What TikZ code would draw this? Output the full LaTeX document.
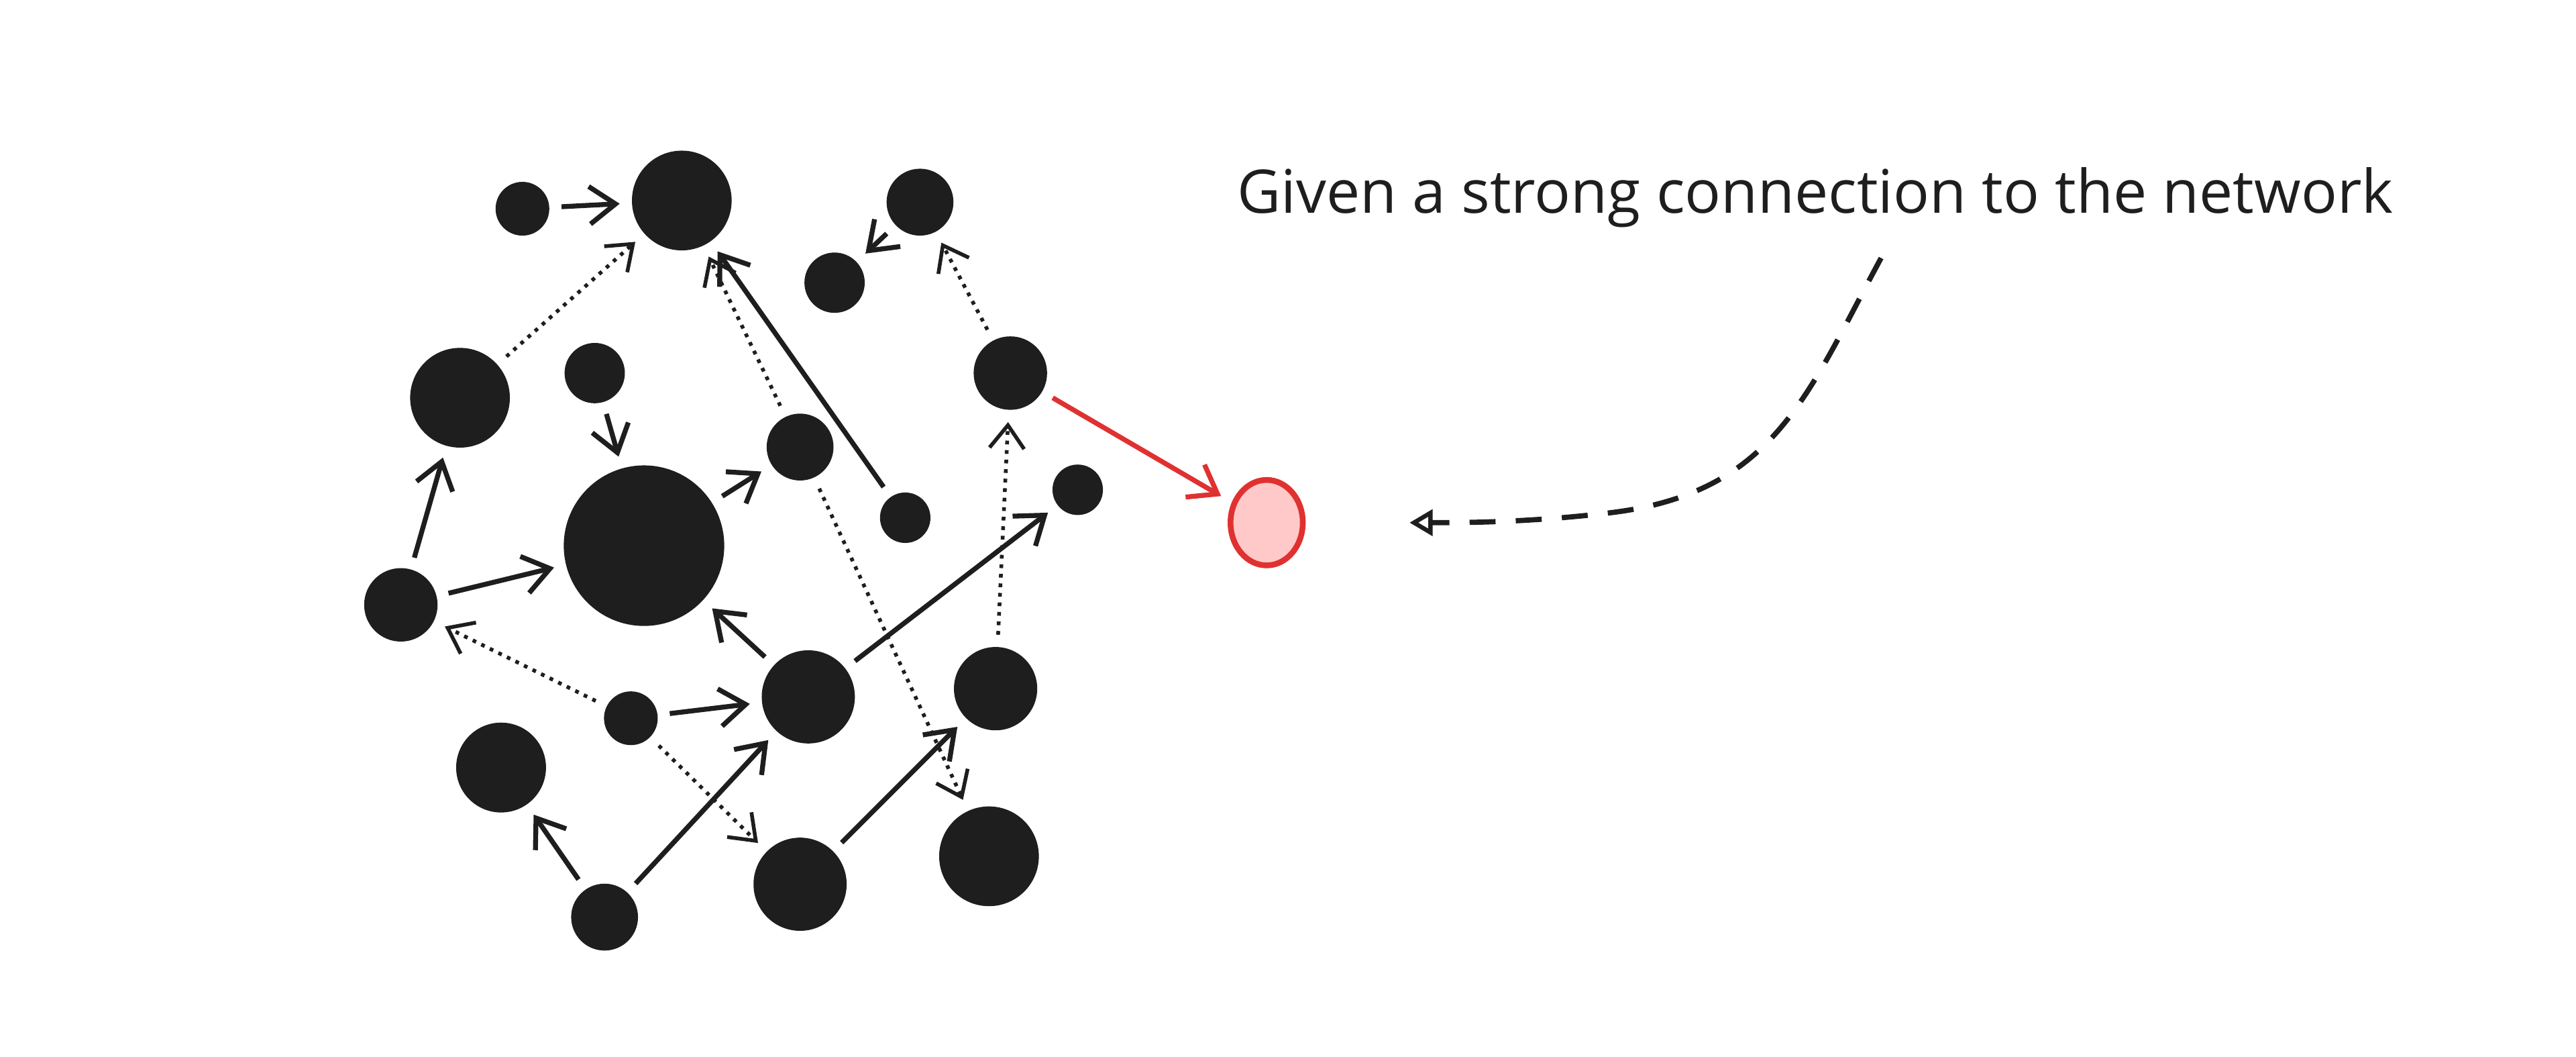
\documentclass[tikz,border=0pt]{standalone}
\usepackage{fontspec}
\setmainfont{Open Sans}
\usetikzlibrary{arrows.meta,shapes.geometric}
\definecolor{ink}{HTML}{1E1E1E}
\definecolor{redl}{HTML}{E03131}
\definecolor{pinkf}{HTML}{FFC9C9}
\begin{document}
\begin{tikzpicture}[x=0.02cm,y=-0.02cm,
 blob/.style={circle,fill=ink,draw=ink,inner sep=0pt},
 sol/.style={ink,line width=1.7pt,-{Straight Barb[length=9pt,width=13pt,line width=1.7pt]},shorten <=0.15cm,shorten >=0.15cm},
 dot/.style={ink,line width=1.3pt,dotted,-{Straight Barb[length=8pt,width=12pt,line width=1.3pt]},shorten <=0.15cm,shorten >=0.15cm}]
\useasboundingbox (0,0) rectangle (1568,643);
\node[blob,minimum size=0.64cm] (n1) at (318,127) {};
\node[blob,minimum size=1.2cm] (n2) at (415,122) {};
\node[blob,minimum size=0.8cm] (n3) at (560,123) {};
\node[blob,minimum size=0.72cm] (n4) at (508,172) {};
\node[blob,minimum size=1.2cm] (n5) at (280,242) {};
\node[blob,minimum size=0.72cm] (n6) at (362,227) {};
\node[blob,minimum size=0.88cm] (n7) at (615,227) {};
\node[blob,minimum size=0.8cm] (n8) at (487,272) {};
\node[blob,minimum size=1.94cm] (n9) at (392,332) {};
\node[blob,minimum size=0.6cm] (n10) at (551,315) {};
\node[blob,minimum size=0.6cm] (n11) at (656,298) {};
\node[blob,minimum size=0.88cm] (n12) at (244,368) {};
\node[blob,minimum size=0.64cm] (n13) at (384,437) {};
\node[blob,minimum size=1.12cm] (n14) at (492,424) {};
\node[blob,minimum size=1.0cm] (n15) at (606,419) {};
\node[blob,minimum size=1.08cm] (n16) at (305,467) {};
\node[blob,minimum size=0.8cm] (n17) at (368,558) {};
\node[blob,minimum size=1.12cm] (n18) at (487,538) {};
\node[blob,minimum size=1.2cm] (n19) at (602,521) {};
\node[ellipse,draw=redl,fill=pinkf,line width=2pt,minimum width=0.88cm,minimum height=1.04cm] (red) at (771,318) {};
\draw[sol] (n1) -- (n2);
\draw[sol] (n6) -- (n9);
\draw[sol] (n12) -- (n5);
\draw[sol] (n12) -- (n9);
\draw[sol] (n10) -- (n2);
\draw[sol] (n9) -- (n8);
\draw[sol] (n3) -- (n4);
\draw[sol] (n14) -- (n9);
\draw[sol] (n13) -- (n14);
\draw[sol] (n14) -- (n11);
\draw[sol] (n17) -- (n16);
\draw[sol] (n17) -- (n14);
\draw[sol] (n18) -- (n15);
\draw[sol,redl] (n7) -- (red);
\draw[dot] (n5) -- (n2);
\draw[dot] (n8) -- (n2);
\draw[dot] (n7) -- (n3);
\draw[dot] (n15) -- (n7);
\draw[dot] (n13) -- (n12);
\draw[dot] (n13) -- (n18);
\draw[dot] (n8) -- (n19);
\node[ink,font=\fontsize{20.8}{24}\selectfont] (t) at (1105,120) {Given a strong connection to the network};
\coordinate (c1) at (1145,157);
\coordinate (c2) at (858,318);
\draw[ink,line width=1.8pt,dash pattern=on 9pt off 7pt,-{Triangle[open,length=8pt,width=9pt,line width=1.5pt]}] (c1) .. controls (1100,240) and (1080,300) .. (980,312) .. controls (930,318) and (890,318) .. (c2);
\end{tikzpicture}
\end{document}
